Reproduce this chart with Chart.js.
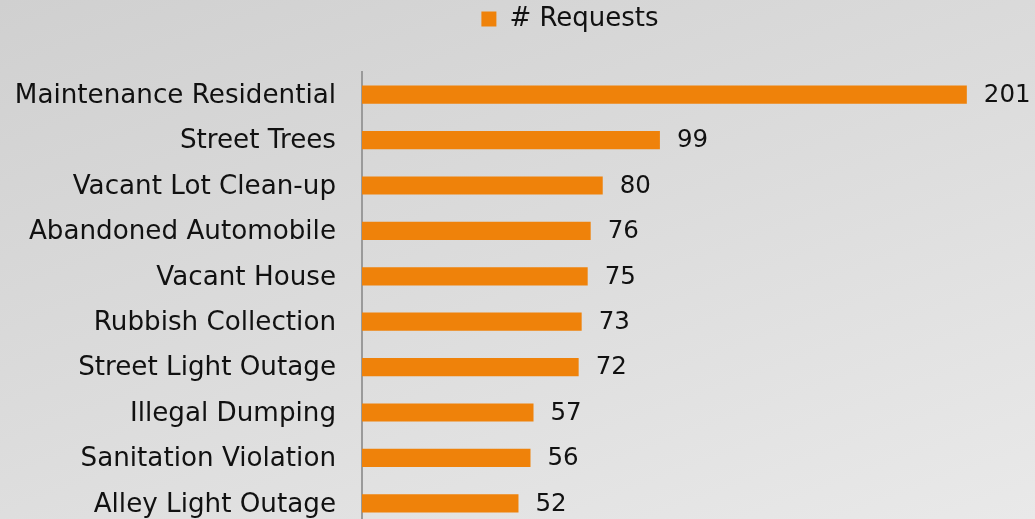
<!DOCTYPE html>
<html>
<head>
<meta charset="utf-8">
<script src="https://cdn.jsdelivr.net/npm/chart.js@4/dist/chart.umd.min.js"></script>
<style>
  html, body { margin: 0; padding: 0; overflow: hidden; }
  #frame { width: 1035px; height: 519px; overflow: hidden; position: relative;
    background: linear-gradient(160deg, #d0d0d0 0%, #dcdcdc 50%, #e9e9e9 100%); }
  #wrap { width: 1035px; height: 526px; position: absolute; left: 0; top: 0; }
</style>
</head>
<body>
<div id="frame"><div id="wrap"><canvas id="c"></canvas></div></div>
<script>
const categories = [
  "Maintenance Residential",
  "Street Trees",
  "Vacant Lot Clean-up",
  "Abandoned Automobile",
  "Vacant House",
  "Rubbish Collection",
  "Street Light Outage",
  "Illegal Dumping",
  "Sanitation Violation",
  "Alley Light Outage"
];
const requests = [201, 99, 80, 76, 75, 73, 72, 57, 56, 52];
const seriesName = "# Requests";

const FONT = "'DejaVu Sans', Verdana, sans-serif";
const ORANGE = "#EF820A";

const valueLabels = {
  id: 'valueLabels',
  afterDatasetsDraw(chart) {
    const ctx = chart.ctx;
    const meta = chart.getDatasetMeta(0);
    ctx.save();
    ctx.font = "24.5px " + FONT;
    ctx.fillStyle = "#111111";
    ctx.textAlign = "left";
    ctx.textBaseline = "middle";
    meta.data.forEach((bar, i) => {
      ctx.fillText(String(requests[i]), bar.x + 17, bar.y + 1);
    });
    ctx.restore();
  }
};

const legendTweak = {
  id: 'legendTweak',
  beforeInit(chart) {
    const orig = chart.legend.fit;
    chart.legend.fit = function () {
      orig.bind(chart.legend)();
      this.height = 72;
    };
  },
  afterLayout(chart) {
    chart.legend.left += 58;
    chart.legend.right += 58;
  }
};

new Chart(document.getElementById('c'), {
  type: 'bar',
  data: {
    labels: categories,
    datasets: [{
      label: seriesName,
      data: requests,
      backgroundColor: ORANGE,
      borderWidth: 0,
      barPercentage: 0.8,
      categoryPercentage: 0.5
    }]
  },
  options: {
    indexAxis: 'y',
    responsive: true,
    maintainAspectRatio: false,
    animation: false,
    layout: { padding: { left: 0, right: 11, top: 0, bottom: 0 } },
    plugins: {
      legend: {
        display: true,
        position: 'top',
        labels: {
          boxWidth: 15,
          boxHeight: 15,
          padding: 6,
          color: '#111111',
          font: { family: FONT, size: 26 }
        }
      },
      tooltip: { enabled: false }
    },
    scales: {
      x: {
        display: false,
        min: 0,
        max: 220
      },
      y: {
        grid: { display: false, drawTicks: false },
        border: { display: true, color: '#9a9a9a', width: 2 },
        ticks: {
          padding: 26,
          labelOffset: 1.5,
          color: '#111111',
          font: { family: FONT, size: 26.2 }
        },
        afterFit(scale) {
          scale.width = 362;
          scale.paddingTop = 0;
          scale.paddingBottom = 0;
        }
      }
    }
  },
  plugins: [valueLabels, legendTweak]
});
</script>
</body>
</html>
